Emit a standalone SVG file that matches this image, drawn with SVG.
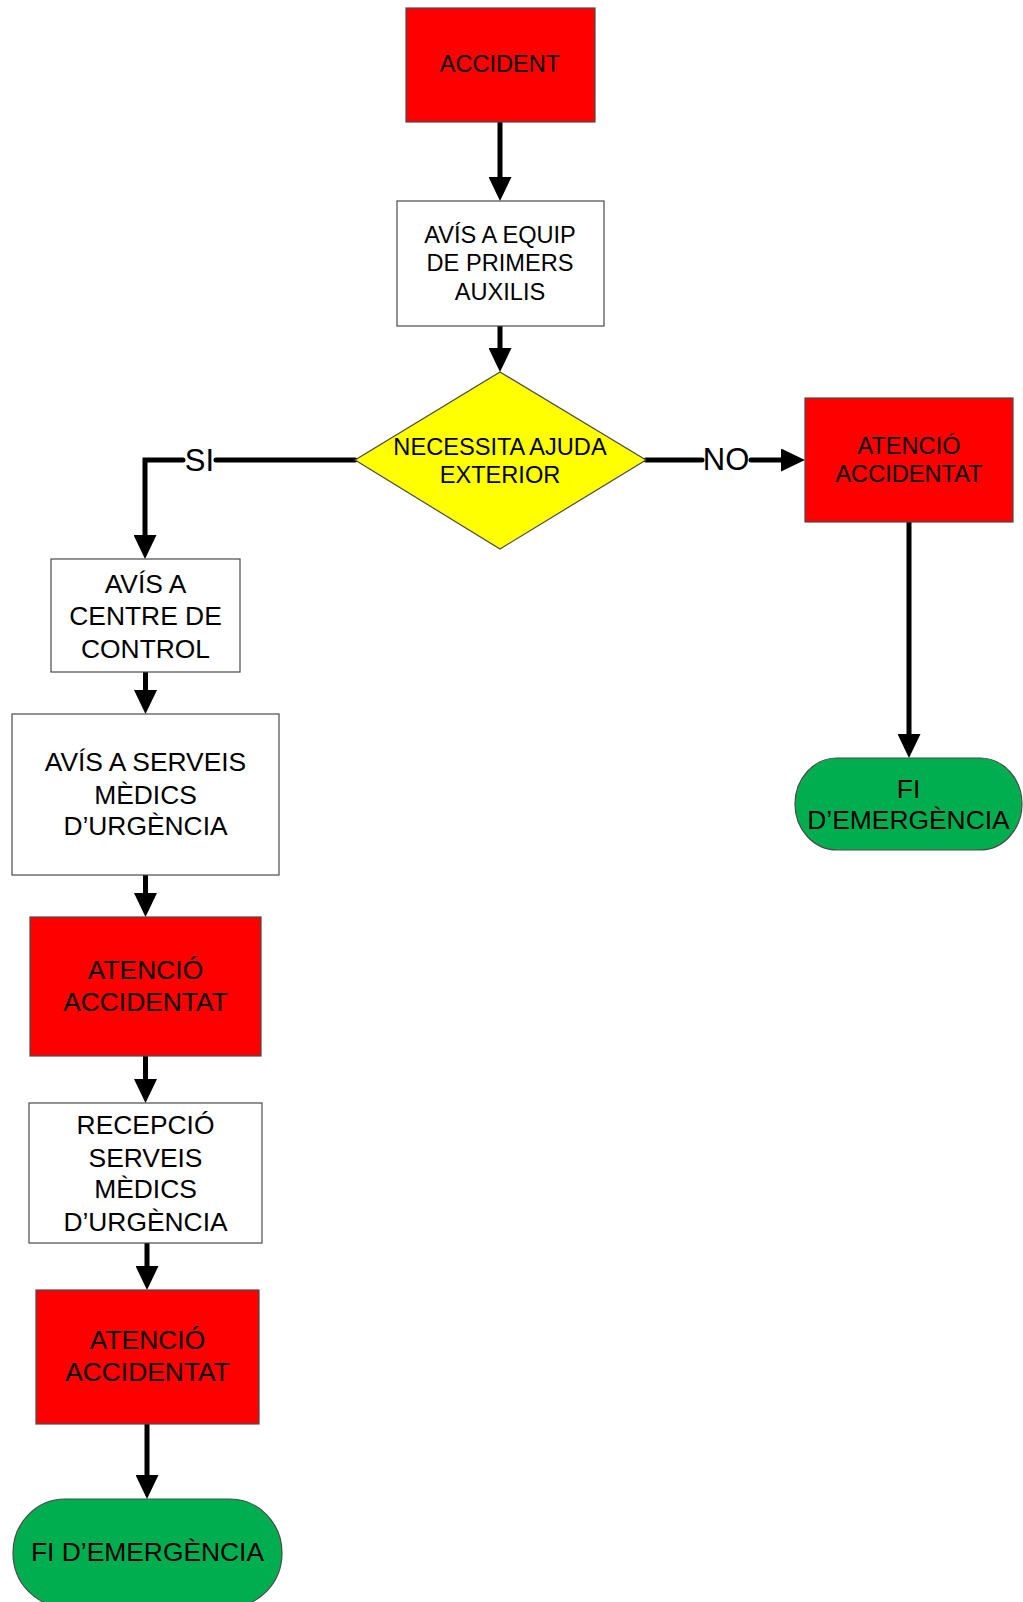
<svg xmlns="http://www.w3.org/2000/svg" width="1023" height="1602" viewBox="0 0 1023 1602">
<defs>
<style>
.box{stroke:#4a4a4a;stroke-width:1.2}
.red{fill:#ff0000}
.white{fill:#ffffff}
.yellow{fill:#ffff00}
.green{fill:#00ae4f}
text{font-family:"Liberation Sans",Arial,sans-serif;fill:#000;text-anchor:middle}
.t1{font-size:23.6px}
.t2{font-size:26.4px}
.lbl{font-size:31px}
.conn{fill:none;stroke:#000;stroke-width:5;stroke-linecap:round;stroke-linejoin:miter}
</style>
<marker id="ah" markerUnits="userSpaceOnUse" markerWidth="24" markerHeight="23" refX="0" refY="11.5" orient="auto">
<path d="M0,0 L24,11.5 L0,23 Z" fill="#000"/>
</marker>
</defs>
<rect width="1023" height="1602" fill="#fff"/>

<g id="connectors">
<path class="conn" d="M500,122 V177" marker-end="url(#ah)"/>
<path class="conn" d="M500,326 V348" marker-end="url(#ah)"/>
<path class="conn" d="M355,460 H216 M183,460 H145 V535" marker-end="url(#ah)"/>
<path class="conn" d="M646,460 H702 M751,460 H781" marker-end="url(#ah)"/>
<path class="conn" d="M909,522 V734" marker-end="url(#ah)"/>
<path class="conn" d="M145.5,672 V690" marker-end="url(#ah)"/>
<path class="conn" d="M145.5,875 V893" marker-end="url(#ah)"/>
<path class="conn" d="M145.5,1056 V1079" marker-end="url(#ah)"/>
<path class="conn" d="M147,1243 V1266" marker-end="url(#ah)"/>
<path class="conn" d="M147,1424 V1475" marker-end="url(#ah)"/>
<text class="lbl" x="199.5" y="471">SI</text>
<text class="lbl" x="726" y="470">NO</text>
</g>

<g id="n_accident">
<rect class="box red" x="406" y="8" width="189" height="114"/>
<text class="t1" x="500" y="72">ACCIDENT</text>
</g>

<g id="n_avis_equip">
<rect class="box white" x="397" y="201" width="207" height="125"/>
<text class="t1" x="500" y="242.5">AVÍS A EQUIP</text>
<text class="t1" x="500" y="271">DE PRIMERS</text>
<text class="t1" x="500" y="299.5">AUXILIS</text>
</g>

<g id="n_decisio">
<polygon class="box yellow" points="500,372 646,460 500,549 355,460"/>
<text class="t1" x="500" y="454.5">NECESSITA AJUDA</text>
<text class="t1" x="500" y="482.5">EXTERIOR</text>
</g>

<g id="n_atencio_dreta">
<rect class="box red" x="805" y="398" width="208" height="124"/>
<text class="t1" x="909" y="453.5">ATENCIÓ</text>
<text class="t1" x="909" y="481.5">ACCIDENTAT</text>
</g>

<g id="n_fi_dreta">
<rect class="box green" x="795" y="758" width="227" height="92" rx="42" ry="46"/>
<text class="t2" x="908.5" y="797.5">FI</text>
<text class="t2" x="908.5" y="829">D’EMERGÈNCIA</text>
</g>

<g id="n_avis_centre">
<rect class="box white" x="51" y="559" width="189" height="113"/>
<text class="t2" x="145.5" y="593">AVÍS A</text>
<text class="t2" x="145.5" y="624.5">CENTRE DE</text>
<text class="t2" x="145.5" y="657.5">CONTROL</text>
</g>

<g id="n_avis_serveis">
<rect class="box white" x="12" y="714" width="267" height="161"/>
<text class="t2" x="145.5" y="771">AVÍS A SERVEIS</text>
<text class="t2" x="145.5" y="803.5">MÈDICS</text>
<text class="t2" x="145.5" y="835">D’URGÈNCIA</text>
</g>

<g id="n_atencio_1">
<rect class="box red" x="30" y="917" width="231" height="139"/>
<text class="t2" x="145.5" y="978.5">ATENCIÓ</text>
<text class="t2" x="145.5" y="1011">ACCIDENTAT</text>
</g>

<g id="n_recepcio">
<rect class="box white" x="29" y="1103" width="233" height="140"/>
<text class="t2" x="145.5" y="1133.5">RECEPCIÓ</text>
<text class="t2" x="145.5" y="1166.5">SERVEIS</text>
<text class="t2" x="145.5" y="1198">MÈDICS</text>
<text class="t2" x="145.5" y="1230.5">D’URGÈNCIA</text>
</g>

<g id="n_atencio_2">
<rect class="box red" x="36" y="1290" width="223" height="134"/>
<text class="t2" x="147.5" y="1348.5">ATENCIÓ</text>
<text class="t2" x="147.5" y="1381">ACCIDENTAT</text>
</g>

<g id="n_fi_esquerra">
<rect class="box green" x="13" y="1499" width="269" height="108" rx="52" ry="54"/>
<text class="t2" x="147.5" y="1561">FI D’EMERGÈNCIA</text>
</g>
</svg>
